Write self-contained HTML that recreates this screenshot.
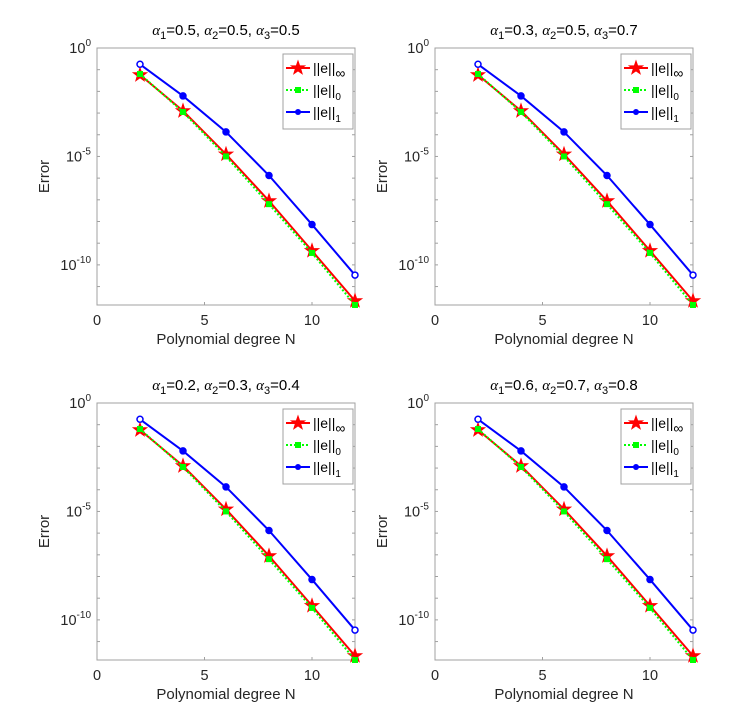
<!DOCTYPE html>
<html><head><meta charset="utf-8"><style>
body{margin:0;background:#fff;}
svg{display:block;font-family:"Liberation Sans",sans-serif;}
</style></head><body>
<svg id="fig" width="750" height="722" viewBox="0 0 750 722" xmlns="http://www.w3.org/2000/svg"></svg>
<script>
const xValues=[2,4,6,8,10,12];
const titles=[["0.5","0.5","0.5"],["0.3","0.5","0.7"],["0.2","0.3","0.4"],["0.6","0.7","0.8"]];
// log10 of errors
const infNorm=[-1.24,-2.9,-4.9,-7.05,-9.35,-11.66];
const zeroNorm=[-1.2,-2.95,-5.0,-7.2,-9.45,-11.85];
const oneNorm=[-0.75,-2.21,-3.87,-5.88,-8.14,-10.47];
const xTicks=[0,5,10];
const yTicks=[0,-5,-10];
const NS="http://www.w3.org/2000/svg";
const svg=document.getElementById('fig');
function mk(tag,attrs,parent){const e=document.createElementNS(NS,tag);for(const k in attrs)e.setAttribute(k,attrs[k]);(parent||svg).appendChild(e);return e;}
const panels=[[97,48],[435,48],[97,403],[435,403]];
const W=258,H=257,YMIN=-11.85,YMAX=0;
panels.forEach((p,pi)=>{
  const [L,T]=p;
  const g=mk('g',{});
  
  
  const xs=v=>L+v/12*W, ys=v=>T+(YMAX-v)/(YMAX-YMIN)*H;
  const box=mk('rect',{x:L,y:T,width:W,height:H,fill:'#fff',stroke:'#a0a0a0','stroke-width':1},g);
  
  for(let d=0;d>=-11;d--){const y=ys(d);mk('line',{x1:L,x2:L+3,y1:y,y2:y,stroke:'#a0a0a0'},g);mk('line',{x1:L+W,x2:L+W-3,y1:y,y2:y,stroke:'#a0a0a0'},g);}
  xTicks.forEach(t=>{const x=xs(t);mk('line',{x1:x,x2:x,y1:T+H,y2:T+H-3,stroke:'#a0a0a0'},g);
    const tx=mk('text',{x:x,y:T+H+20,'text-anchor':'middle','font-size':14.5,fill:'#262626'},g);tx.textContent=t;
    });
  yTicks.forEach(t=>{const y=ys(t);
    const tx=mk('text',{x:L-6,y:y+5,'text-anchor':'end','font-size':14.5,fill:'#262626'},g);
    tx.innerHTML='10<tspan dy="-7" font-size="10">'+t+'</tspan>';
    });
  const xl=mk('text',{x:L+W/2,y:T+H+39,'text-anchor':'middle','font-size':15,fill:'#262626'},g);xl.textContent='Polynomial degree N';
  
  const yl=mk('text',{x:0,y:0,'text-anchor':'middle','font-size':15,fill:'#262626',transform:`translate(${L-48},${T+H/2}) rotate(-90)`},g);yl.textContent='Error';
  
  const a=titles[pi];
  const tt=mk('text',{x:L+W/2,y:T-13,'text-anchor':'middle','font-size':15,fill:'#000'},g);
  tt.innerHTML=`<tspan font-family="Liberation Serif" font-style="italic">α</tspan><tspan dy="4" font-size="11">1</tspan><tspan dy="-4">=${a[0]}, </tspan><tspan font-family="Liberation Serif" font-style="italic">α</tspan><tspan dy="4" font-size="11">2</tspan><tspan dy="-4">=${a[1]}, </tspan><tspan font-family="Liberation Serif" font-style="italic">α</tspan><tspan dy="4" font-size="11">3</tspan><tspan dy="-4">=${a[2]}</tspan>`;
  
  function star(cx,cy,r,par){let pts=[];for(let i=0;i<10;i++){const rr=i%2?r*0.4:r;const an=-Math.PI/2+i*Math.PI/5;pts.push((cx+rr*Math.cos(an)).toFixed(1)+','+(cy+rr*Math.sin(an)).toFixed(1));}return mk('polygon',{points:pts.join(' '),fill:'#ff0000',stroke:'#ff0000'},par);}
  const series=[
    {d:infNorm,c:'#ff0000',dash:'',m:'star',n:'series-inf-norm'},
    {d:zeroNorm,c:'#00ff00',dash:'2,2',m:'sq',n:'series-zero-norm'},
    {d:oneNorm,c:'#0000ff',dash:'',m:'circ',n:'series-one-norm'}];
  series.forEach(s=>{
    const pl=mk('polyline',{points:xValues.map((x,i)=>xs(x)+','+ys(s.d[i])).join(' '),fill:'none',stroke:s.c,'stroke-width':2,'stroke-dasharray':s.dash},g);
    
    xValues.forEach((x,i)=>{const cx=xs(x),cy=ys(s.d[i]);let m;
      if(s.m==='star')m=star(cx,cy,7,g);
      else if(s.m==='sq')m=mk('rect',{x:cx-3,y:cy-3,width:6,height:6,fill:s.c},g);
      else m=mk('circle',{cx:cx,cy:cy,r:3,fill:i==0||i==5?'#fff':s.c,stroke:s.c,'stroke-width':1.5},g);
      });
  });
  const lg=mk('g',{},g);
  const lx=L+W-72,ly=T+6;
  mk('rect',{x:lx,y:ly,width:70,height:75,fill:'#fff',stroke:'#a0a0a0'},lg);
  const labs=[['∞','#ff0000','','star'],['0','#00ff00','2,2','sq'],['1','#0000ff','','circ']];
  labs.forEach((l,i)=>{const y=ly+14+i*22;
    const e=mk('g',{},lg);
    mk('line',{x1:lx+3,x2:lx+27,y1:y,y2:y,stroke:l[1],'stroke-width':2,'stroke-dasharray':l[2]},e);
    if(l[3]==='star')star(lx+15,y,7,e);else if(l[3]==='sq')mk('rect',{x:lx+12,y:y-3,width:6,height:6,fill:l[1]},e);else mk('circle',{cx:lx+15,cy:y,r:3,fill:l[1]},e);
    const t=mk('text',{x:lx+30,y:y+5,'font-size':14,fill:'#000'},e);
    t.innerHTML=`||e||<tspan dy="5" font-size="${l[0]==='∞'?14:10}">${l[0]}</tspan>`;});
});
</script>
</body></html>
